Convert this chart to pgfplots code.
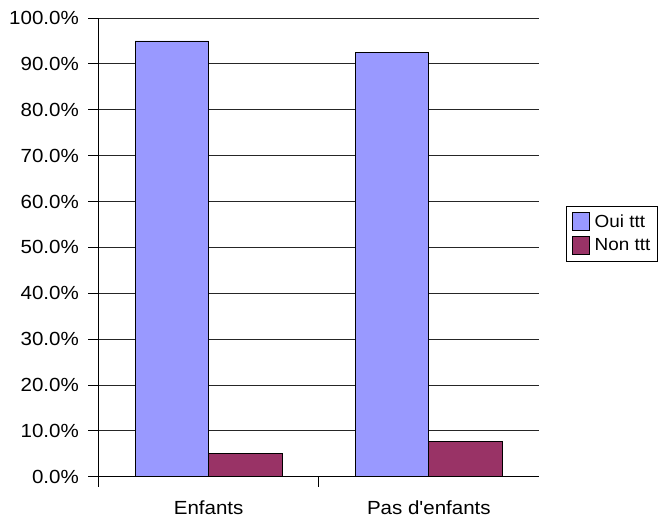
\documentclass[border=0pt]{standalone}
\usepackage{fontspec}
\setmainfont{Liberation Sans}[FakeStretch=1.08, Ligatures=TeXOff]
\usepackage{pgfplots}
\pgfplotsset{compat=1.18}
\definecolor{ouiblue}{HTML}{9999FF}
\definecolor{nonplum}{HTML}{993366}

\begin{document}
\begin{tikzpicture}[x=1pt,y=1pt]
\useasboundingbox (0,0) rectangle (662,518);
\fill[white] (0,0) rectangle (662,518);
\begin{axis}[
  at={(98.5pt,41.3pt)}, anchor=south west,
  scale only axis, width=440.5pt, height=458.7pt,
  ybar=0pt, bar width=0.3335,
  xmin=-0.5, xmax=1.5, ymin=0, ymax=100,
  axis lines*=left,
  axis line style={black, line width=0.8pt},
  tick align=outside,
  tick style={black, line width=0.8pt},
  ytick={0,10,...,100},
  major tick length=10pt,
  ymajorgrids, grid style={black!85, line width=0.8pt},
  xtick={-0.5,0.5}, xticklabels={,},
  extra x ticks={0,1},
  extra x tick labels={Enfants,Pas d'enfants},
  extra x tick style={major tick length=0pt},
  xticklabel style={anchor=base, inner sep=0pt, yshift=-38.3pt},
  yticklabel style={anchor=east, inner sep=0pt, xshift=-9.5pt},
  /pgf/number format/assume math mode=true,
  yticklabel={\pgfmathprintnumber[fixed,fixed zerofill,precision=1]{\tick}\%},
  tick label style={font=\fontsize{19}{21}\selectfont},
  legend style={at={(1.0613,0.590)}, anchor=north west, draw=black,
    line width=0.8pt, font=\fontsize{17.5}{19}\selectfont,
    inner xsep=5.5pt, inner ysep=6pt, row sep=5pt,
    cells={anchor=west}},
  swatch/.style={legend image code/.code={%
    \draw[##1,line width=0.8pt] (0pt,-9pt) rectangle (17pt,9pt);
    \path (20pt,0pt);}},
]
\addplot[fill=ouiblue, draw=black, line width=0.8pt, swatch]
  coordinates {(0,95.0) (1,92.4)};
\addplot[fill=nonplum, draw=black, line width=0.8pt, swatch]
  coordinates {(0,5.0) (1,7.6)};
\legend{Oui ttt,Non ttt}
\end{axis}
\end{tikzpicture}
\end{document}
